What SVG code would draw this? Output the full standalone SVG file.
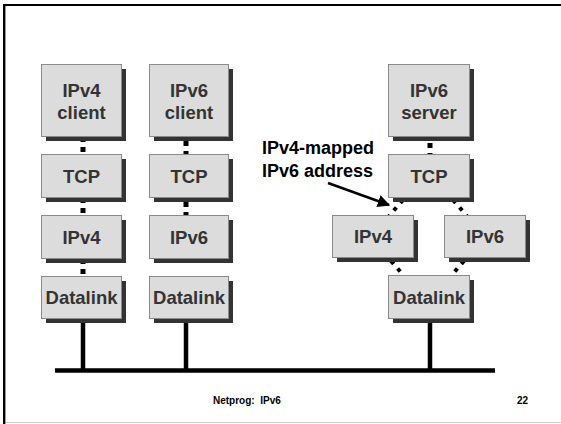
<svg xmlns="http://www.w3.org/2000/svg" width="561" height="424" viewBox="0 0 561 424">
  <defs>
    <style>
      .box rect.face { fill: #dcdcdc; stroke: #8a8a8a; stroke-width: 1; }
      .box rect.shade { fill: #333333; }
      .box text { font-family: "Liberation Sans", Arial, sans-serif; font-weight: bold; font-size: 18.5px; fill: #333333; text-anchor: middle; }
      .dots { stroke: #000; stroke-width: 5; stroke-dasharray: 5 5; fill: none; }
      .diag { stroke: #000; stroke-width: 4; stroke-dasharray: 4 6; fill: none; }
      .wire { stroke: #000; stroke-width: 4.5; fill: none; }
      .label { font-family: "Liberation Sans", Arial, sans-serif; font-weight: bold; font-size: 18px; fill: #000; }
      .foot { font-family: "Liberation Sans", Arial, sans-serif; font-weight: bold; font-size: 10px; fill: #000; }
    </style>
    <marker id="head" viewBox="0 0 10 10" refX="9" refY="5" markerWidth="5" markerHeight="5" orient="auto" markerUnits="strokeWidth">
      <path d="M0,0 L10,5 L0,10 z" fill="#000"/>
    </marker>
  </defs>

  <rect x="0" y="0" width="561" height="424" fill="#fff"/>
  <!-- page frame -->
  <path d="M4,424 V5 H561" fill="none" stroke="#000" stroke-width="2"/>
  <line x1="5.5" y1="6" x2="5.5" y2="424" stroke="#999" stroke-width="1"/>
  <line x1="6" y1="422.5" x2="561" y2="422.5" stroke="#cccccc" stroke-width="1"/>

  <!-- connectors -->
  <g id="connectors">
    <!-- network bus and drops -->
    <line class="wire" x1="55" y1="370.5" x2="495" y2="370.5" stroke-width="5"/>
    <line class="wire" x1="83" y1="318" x2="83" y2="370"/>
    <line class="wire" x1="186" y1="318" x2="186" y2="370"/>
    <line class="wire" x1="430" y1="318" x2="430" y2="370"/>
    <!-- left stack -->
    <line class="dots" x1="83" y1="152" x2="83" y2="137"/>
    <line class="dots" x1="83" y1="213" x2="83" y2="198"/>
    <line class="dots" x1="83" y1="274" x2="83" y2="259"/>
    <!-- middle stack -->
    <line class="dots" x1="186" y1="141" x2="186" y2="156"/>
    <line class="dots" x1="186" y1="202" x2="186" y2="217"/>
    <line class="dots" x1="186" y1="263" x2="186" y2="248"/>
    <!-- right stack -->
    <line class="dots" x1="430" y1="143" x2="430" y2="156"/>
    <line class="diag" x1="403" y1="200" x2="389" y2="216"/>
    <line class="diag" x1="453" y1="200" x2="467" y2="216"/>
    <line class="diag" x1="391" y1="261" x2="405" y2="277"/>
    <line class="diag" x1="464" y1="261" x2="450" y2="277"/>
    <!-- callout arrow -->
    <line x1="328" y1="183" x2="389" y2="205" stroke="#000" stroke-width="2.5" marker-end="url(#head)"/>
  </g>

  <!-- left stack: IPv4 client -->
  <g id="ipv4-client" class="box">
    <rect class="shade" x="46" y="69" width="80" height="72"/>
    <rect class="face" x="41.5" y="64.5" width="80" height="72"/>
    <text x="81.5" y="97">IPv4</text>
    <text x="81.5" y="119">client</text>
  </g>
  <g id="tcp-left" class="box">
    <rect class="shade" x="46" y="159" width="80" height="43"/>
    <rect class="face" x="41.5" y="154.5" width="80" height="43"/>
    <text x="81.5" y="182.5">TCP</text>
  </g>
  <g id="ipv4-left" class="box">
    <rect class="shade" x="46" y="220" width="80" height="43"/>
    <rect class="face" x="41.5" y="215.5" width="80" height="43"/>
    <text x="81.5" y="243.5">IPv4</text>
  </g>
  <g id="datalink-left" class="box">
    <rect class="shade" x="46" y="281" width="80" height="42"/>
    <rect class="face" x="41.5" y="276.5" width="80" height="42"/>
    <text x="81.5" y="304">Datalink</text>
  </g>

  <!-- middle stack: IPv6 client -->
  <g id="ipv6-client" class="box">
    <rect class="shade" x="154" y="69" width="79" height="72"/>
    <rect class="face" x="149.5" y="64.5" width="79" height="72"/>
    <text x="189" y="97">IPv6</text>
    <text x="189" y="119">client</text>
  </g>
  <g id="tcp-middle" class="box">
    <rect class="shade" x="154" y="159" width="79" height="43"/>
    <rect class="face" x="149.5" y="154.5" width="79" height="43"/>
    <text x="189" y="182.5">TCP</text>
  </g>
  <g id="ipv6-middle" class="box">
    <rect class="shade" x="154" y="220" width="79" height="43"/>
    <rect class="face" x="149.5" y="215.5" width="79" height="43"/>
    <text x="189" y="243.5">IPv6</text>
  </g>
  <g id="datalink-middle" class="box">
    <rect class="shade" x="154" y="281" width="79" height="42"/>
    <rect class="face" x="149.5" y="276.5" width="79" height="42"/>
    <text x="189" y="304">Datalink</text>
  </g>

  <!-- right stack: dual-stack IPv6 server -->
  <g id="ipv6-server" class="box">
    <rect class="shade" x="393" y="69" width="81" height="72"/>
    <rect class="face" x="388.5" y="64.5" width="81" height="72"/>
    <text x="429" y="97">IPv6</text>
    <text x="429" y="119">server</text>
  </g>
  <g id="tcp-right" class="box">
    <rect class="shade" x="393" y="159" width="81" height="43"/>
    <rect class="face" x="388.5" y="154.5" width="81" height="43"/>
    <text x="429" y="182.5">TCP</text>
  </g>
  <g id="ipv4-right" class="box">
    <rect class="shade" x="337" y="220" width="81" height="42"/>
    <rect class="face" x="332.5" y="215.5" width="81" height="42"/>
    <text x="373" y="243">IPv4</text>
  </g>
  <g id="ipv6-right" class="box">
    <rect class="shade" x="449" y="220" width="81" height="42"/>
    <rect class="face" x="444.5" y="215.5" width="81" height="42"/>
    <text x="485" y="243">IPv6</text>
  </g>
  <g id="datalink-right" class="box">
    <rect class="shade" x="393" y="280" width="81" height="43"/>
    <rect class="face" x="388.5" y="275.5" width="81" height="43"/>
    <text x="429" y="303.5">Datalink</text>
  </g>

  <!-- callout -->
  <text class="label" x="262" y="154">IPv4-mapped</text>
  <text class="label" x="262" y="177">IPv6 address</text>

  <!-- footer -->
  <text class="foot" x="213" y="404">Netprog:&#160; IPv6</text>
  <text class="foot" x="528" y="404" text-anchor="end">22</text>
</svg>
